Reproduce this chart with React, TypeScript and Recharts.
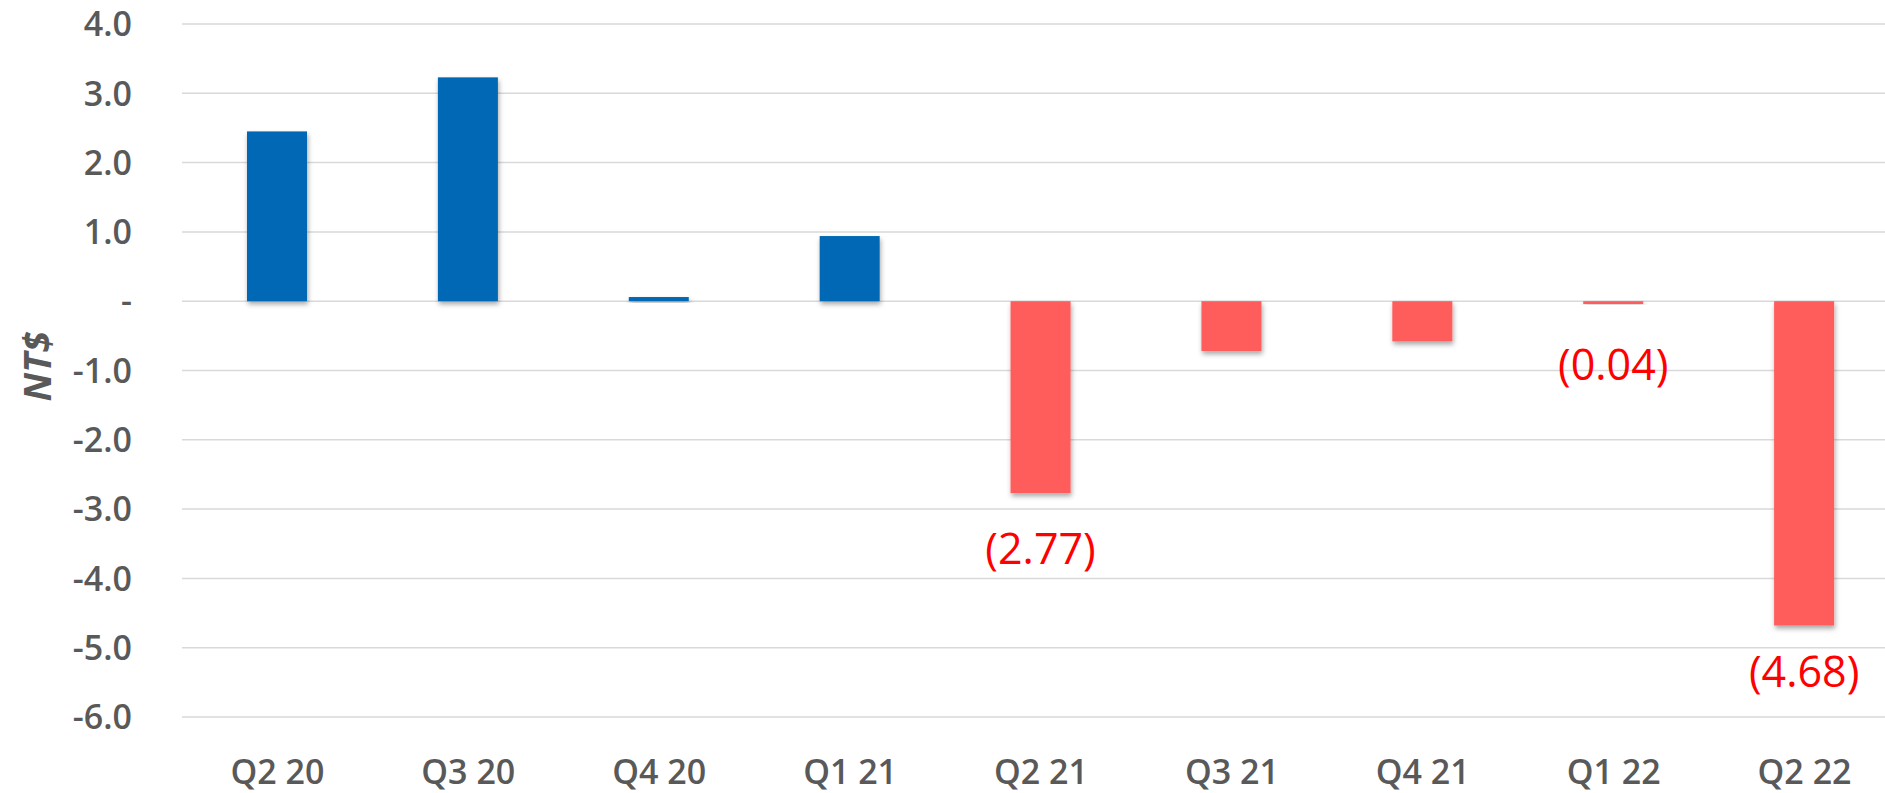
import React from "react";
import { BarChart, Bar, XAxis, YAxis, CartesianGrid, Cell, LabelList } from "recharts";

const categories = ["Q2 20", "Q3 20", "Q4 20", "Q1 21", "Q2 21", "Q3 21", "Q4 21", "Q1 22", "Q2 22"];
const values = [2.45, 3.23, 0.06, 0.94, -2.77, -0.72, -0.58, -0.04, -4.68];
const dataLabels = ["", "", "", "", "(2.77)", "", "", "(0.04)", "(4.68)"];
const yTicks = [4, 3, 2, 1, 0, -1, -2, -3, -4, -5, -6];

const data = categories.map((c, i) => ({ name: c, value: values[i], label: dataLabels[i] }));

const POS_COLOR = "#0067B5";
const NEG_COLOR = "#FF5C5C";
const TEXT_COLOR = "#595959";
const LABEL_DY: Record<string, number> = { "Q2 21": 55, "Q1 22": 61, "Q2 22": 46 };

const fmtTick = (v: number) => (v === 0 ? "-" : v.toFixed(1));

const YTick = (props: any) => {
  const { x, y, payload } = props;
  return (
    <text x={x} y={y} dy="0.36em" textAnchor="end" fill={TEXT_COLOR} fontSize={34} fontWeight={600} fontFamily="'Open Sans', sans-serif">
      {fmtTick(payload.value)}
    </text>
  );
};

const XTick = (props: any) => {
  const { x, y, payload } = props;
  return (
    <text x={x} y={y + 55} dy="0.36em" textAnchor="middle" fill={TEXT_COLOR} fontSize={34} fontWeight={600} fontFamily="'Open Sans', sans-serif">
      {payload.value}
    </text>
  );
};

const ValueLabel = (props: any) => {
  const { x, y, width, height, index } = props;
  const text = dataLabels[index];
  if (!text) return null;
  const bottom = Math.max(y, y + height);
  const dy = LABEL_DY[categories[index]] ?? 52;
  return (
    <text x={x + width / 2} y={bottom + dy} dy="0.36em" textAnchor="middle" fill="#FF0000" fontSize={43} fontFamily="'Open Sans', sans-serif">
      {text}
    </text>
  );
};

const ShadowBar = (props: any) => {
  const { x, y, width, height, fill } = props;
  const top = Math.min(y, y + height);
  const h = Math.abs(height);
  return <rect x={x} y={top} width={width} height={h} fill={fill} filter="url(#barShadow)" />;
};

export default function App() {
  return (
    <div style={{ position: "absolute", left: 0, top: 0, width: 1885, height: 793, overflow: "hidden", background: "#fff" }}>
      <BarChart
        width={1902}
        height={793}
        data={data}
        margin={{ top: 24, right: 2, bottom: 0, left: 0 }}
        barCategoryGap={0}
      >
        <defs>
          <filter id="barShadow" x="-30%" y="-30%" width="160%" height="160%">
            <feDropShadow dx="1" dy="3" stdDeviation="2.5" floodColor="#000" floodOpacity="0.35" />
          </filter>
        </defs>
        <CartesianGrid vertical={false} stroke="#D9D9D9" strokeWidth={1.5} />
        <XAxis dataKey="name" height={76} axisLine={false} tickLine={false} tickSize={0} tickMargin={0} tick={<XTick />} interval={0} />
        <YAxis
          type="number"
          domain={[-6, 4]}
          ticks={yTicks}
          width={182}
          axisLine={false}
          tickLine={false}
          tickSize={0}
          tickMargin={50}
          tick={<YTick />}
          interval={0}
          label={{
            value: "NT$",
            angle: -90,
            position: "insideLeft",
            offset: 0,
            style: { fill: TEXT_COLOR, fontSize: 38, fontStyle: "italic", fontWeight: 700, fontFamily: "'Open Sans', sans-serif", textAnchor: "middle" },
            dx: 38,
            dy: -4,
          }}
        />
        <Bar dataKey="value" barSize={60} isAnimationActive={false} shape={<ShadowBar />}>
          {data.map((d, i) => (
            <Cell key={i} fill={d.value >= 0 ? POS_COLOR : NEG_COLOR} />
          ))}
          <LabelList dataKey="label" content={<ValueLabel />} />
        </Bar>
      </BarChart>
    </div>
  );
}
